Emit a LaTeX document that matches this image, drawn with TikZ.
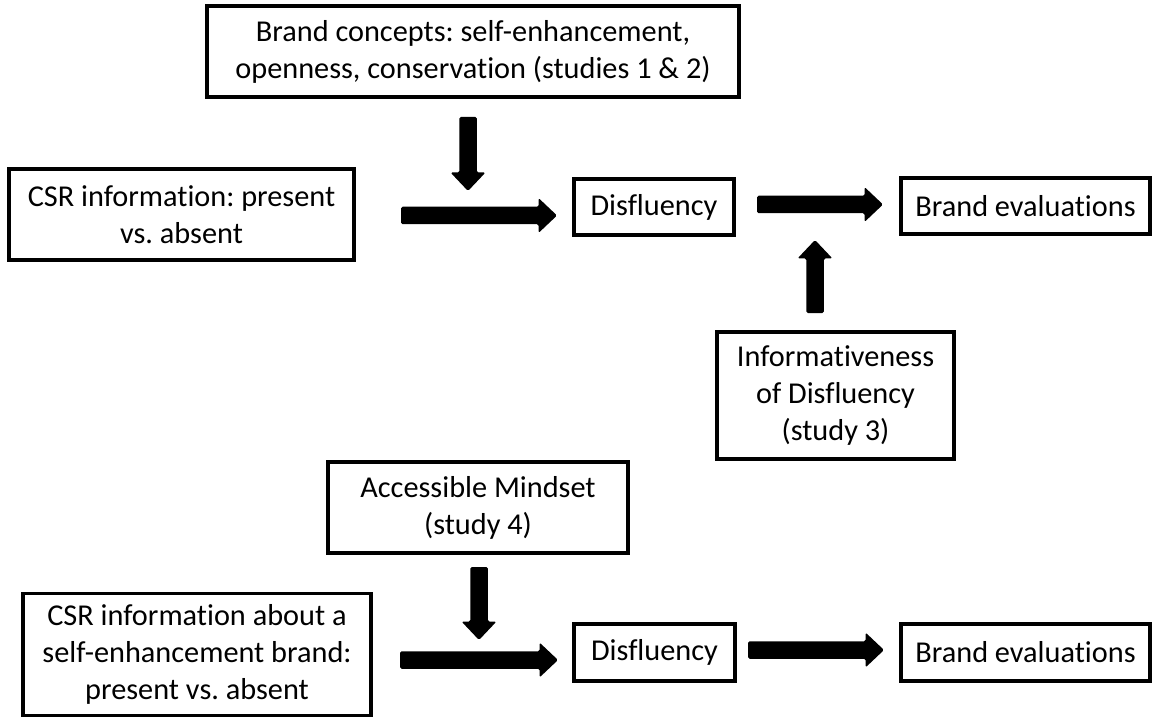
\documentclass[tikz,border=0pt]{standalone}
\usepackage{fontspec}
\setmainfont{Carlito}[Ligatures=NoCommon]
\usetikzlibrary{calc}
\frenchspacing
\tikzset{
  box/.style={draw, line width=3.5pt, align=center, inner sep=0pt,
    font=\fontsize{30.3}{37}\selectfont},
  fat/.style={fill=black, rounded corners=1.5pt},
}
\newcommand{\blockarrow}[2]{%
  \path ($(#2)!18.5pt!(#1)$) coordinate (hb);
  \fill[fat] ($(#1)!8.75pt!90:(#2)$) -- ($(hb)!8.75pt!90:(#2)$) -- ($(hb)!17.5pt!90:(#2)$)
    -- (#2) -- ($(hb)!17.5pt!-90:(#2)$) -- ($(hb)!8.75pt!-90:(#2)$)
    -- ($(#1)!8.75pt!-90:(#2)$) -- cycle;}
\begin{document}
\begin{tikzpicture}[x=1pt, y=-1pt]
\useasboundingbox (0,0) rectangle (1153,719);
% top row
\node[box, minimum width=532, minimum height=91] (bc) at (473,51.5)
  {Brand concepts: self-enhancement,\\ openness, conservation (studies 1 \& 2)};
\node[box, minimum width=345, minimum height=91] (csr1) at (181.5,214.5)
  {CSR information: present\\ vs. absent};
\node[box, minimum width=160, minimum height=56] (dis1) at (654,207) {Disfluency};
\node[box, minimum width=249, minimum height=56] (be1) at (1025.5,206) {Brand evaluations};
\node[box, minimum width=237, minimum height=127] (info) at (835.5,395.5)
  {Informativeness\\ of Disfluency\\ (study 3)};
% bottom row
\node[box, minimum width=300, minimum height=91] (acc) at (478,507.5)
  {Accessible Mindset\\ (study 4)};
\node[box, minimum width=348, minimum height=122] (csr2) at (197,654.5)
  {CSR information about a\\ self-enhancement brand:\\ present vs. absent};
\node[box, minimum width=161, minimum height=57] (dis2) at (654.5,652.5) {Disfluency};
\node[box, minimum width=249, minimum height=57] (be2) at (1025.5,652.5) {Brand evaluations};
% arrow end points
\coordinate (d1s) at (468,117);   \coordinate (d1e) at (468,191);
\coordinate (a1s) at (401,215.5); \coordinate (a1e) at (557,215.5);
\coordinate (a2s) at (757,204.5); \coordinate (a2e) at (883,204.5);
\coordinate (u1s) at (815,313);   \coordinate (u1e) at (815,240);
\coordinate (d2s) at (479,567);   \coordinate (d2e) at (479,640);
\coordinate (a3s) at (400,660);   \coordinate (a3e) at (558,660);
\coordinate (a4s) at (748,650);   \coordinate (a4e) at (884,650);
\blockarrow{d1s}{d1e}
\blockarrow{a1s}{a1e}
\blockarrow{a2s}{a2e}
\blockarrow{u1s}{u1e}
\blockarrow{d2s}{d2e}
\blockarrow{a3s}{a3e}
\blockarrow{a4s}{a4e}
\end{tikzpicture}
\end{document}
